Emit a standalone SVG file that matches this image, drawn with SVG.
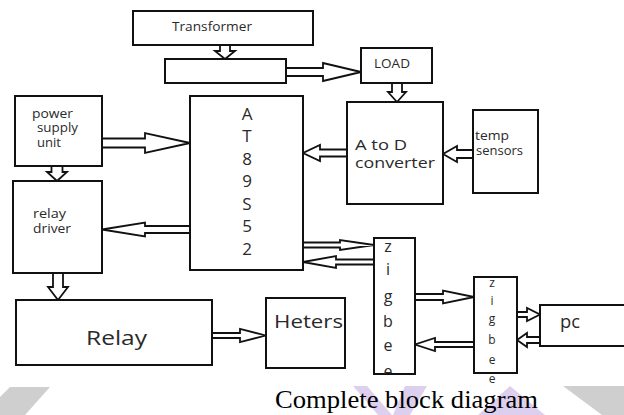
<svg xmlns="http://www.w3.org/2000/svg" width="624" height="415" viewBox="0 0 624 415">
<style>
.box{fill:#fff;stroke:#111;stroke-width:2}
.arr{fill:#fff;stroke:#111;stroke-width:1.8;stroke-linejoin:miter}
.lbl{font-family:"Open Sans","Liberation Sans",sans-serif;fill:#2a2a2a}
.ctr{text-anchor:middle}
.cap{font-family:"Liberation Serif","Times New Roman",serif;font-size:26px;fill:#000}
.wm-g{fill:#cfcfcf}
.wm-p{fill:#ddd0ef}
</style>
<defs>
<clipPath id="zclip"><rect x="374" y="238" width="41" height="136"/></clipPath>
</defs>
<rect x="0" y="0" width="624" height="415" fill="#fff"/>
<g id="watermark">
<polygon class="wm-g" points="10,387 50,387 25,415 -18,415"/>
<polygon class="wm-g" points="563,386 624,386 624,415 602,415"/>
<polygon class="wm-p" points="353,386 367,386 392,415 378,415"/>
<polygon class="wm-p" points="405,386 427,386 410,415 393,415"/>
<polygon class="wm-p" points="510,386 545,415 478,415"/>
</g>
<g id="connectors">
<polygon class="arr" points="220,45 230,45 230,51 235,51 225,59 215,51 220,51"/>
<polygon class="arr" points="286,68 323,68 323,63 361,72 323,81 323,76 286,76"/>
<polygon class="arr" points="392,83 402,83 402,92 406,92 397,102 388,92 392,92"/>
<polygon class="arr" points="347,149.5 320,149.5 320,145 303,153 320,161 320,156.5 347,156.5"/>
<polygon class="arr" points="473,150 457,150 457,146 443,154 457,162 457,158 473,158"/>
<polygon class="arr" points="102,138.5 145,138.5 145,133 190,143 145,153 145,147.5 102,147.5"/>
<polygon class="arr" points="51.5,166 62.5,166 62.5,172 67,172 57,181 47,172 51.5,172"/>
<polygon class="arr" points="190,226 145,226 145,222.5 102,229.5 145,236.5 145,233 190,233"/>
<polygon class="arr" points="53,273 63,273 63,287 68,287 58,300 48,287 53,287"/>
<polygon class="arr" points="212,333 240,333 240,329 266,335.5 240,342 240,338 212,338"/>
<polygon class="arr" points="303,242.5 340,242.5 340,240 374,245 340,250 340,247.5 303,247.5"/>
<polygon class="arr" points="374,259.5 336,259.5 336,256 303,262 336,268 336,264.5 374,264.5"/>
<polygon class="arr" points="415,294 443,294 443,290.5 474,297 443,303.5 443,300 415,300"/>
<polygon class="arr" points="474,342 435,342 435,338 415,344.5 435,351 435,347 474,347"/>
<polygon class="arr" points="517,312 527,312 527,308 540,314.5 527,321 527,317 517,317"/>
<polygon class="arr" points="540,337 527,337 527,333 517,340 527,347 527,343 540,343"/>
</g>
<g id="transformer">
<rect class="box" x="133" y="11" width="180" height="34"/>
<text class="lbl" x="172" y="31" font-size="13" textLength="80" lengthAdjust="spacingAndGlyphs">Transformer</text>
</g>
<g id="blank">
<rect class="box" x="165" y="59" width="121" height="24"/>
</g>
<g id="load">
<rect class="box" x="361" y="48" width="71" height="35"/>
<text class="lbl" x="374" y="68" font-size="12" textLength="36" lengthAdjust="spacingAndGlyphs">LOAD</text>
</g>
<g id="power">
<rect class="box" x="15" y="96" width="87" height="70"/>
<text class="lbl" x="32" y="118" font-size="12" textLength="41" lengthAdjust="spacingAndGlyphs">power</text>
<text class="lbl" x="37" y="132" font-size="12" textLength="41" lengthAdjust="spacingAndGlyphs">supply</text>
<text class="lbl" x="37" y="147" font-size="12" textLength="24" lengthAdjust="spacingAndGlyphs">unit</text>
</g>
<g id="at89s52">
<rect class="box" x="190" y="96" width="113" height="174"/>
<g class="lbl ctr" font-size="17">
<text x="247" y="120">A</text>
<text x="247" y="142">T</text>
<text x="247" y="165">8</text>
<text x="247" y="187">9</text>
<text x="247" y="210">S</text>
<text x="247" y="232">5</text>
<text x="247" y="255">2</text>
</g>
</g>
<g id="atod">
<rect class="box" x="347" y="102" width="96" height="102"/>
<text class="lbl" x="355" y="150" font-size="15" textLength="52" lengthAdjust="spacingAndGlyphs">A to D</text>
<text class="lbl" x="355" y="168" font-size="15" textLength="80" lengthAdjust="spacingAndGlyphs">converter</text>
</g>
<g id="temp">
<rect class="box" x="473" y="110" width="65" height="83"/>
<text class="lbl" x="475" y="140" font-size="12.5" textLength="34" lengthAdjust="spacingAndGlyphs">temp</text>
<text class="lbl" x="476" y="155" font-size="12.5" textLength="47" lengthAdjust="spacingAndGlyphs">sensors</text>
</g>
<g id="relaydriver">
<rect class="box" x="13" y="181" width="89" height="92"/>
<text class="lbl" x="33" y="218" font-size="12.5" textLength="33" lengthAdjust="spacingAndGlyphs">relay</text>
<text class="lbl" x="33" y="233" font-size="12.5" textLength="38" lengthAdjust="spacingAndGlyphs">driver</text>
</g>
<g id="relay">
<rect class="box" x="16" y="300" width="196" height="65"/>
<text class="lbl" x="86" y="345" font-size="20" textLength="61" lengthAdjust="spacingAndGlyphs">Relay</text>
</g>
<g id="heters">
<rect class="box" x="266" y="298" width="79" height="70"/>
<text class="lbl" x="274" y="328" font-size="19" textLength="69" lengthAdjust="spacingAndGlyphs">Heters</text>
</g>
<g id="zigbee1">
<rect class="box" x="374" y="238" width="41" height="136"/>
<g class="lbl ctr" font-size="16" clip-path="url(#zclip)">
<text x="388" y="252">z</text>
<text x="388" y="275">i</text>
<text x="388" y="302">g</text>
<text x="388" y="327">b</text>
<text x="388" y="351">e</text>
<text x="388" y="377">e</text>
</g>
</g>
<g id="zigbee2">
<rect class="box" x="474" y="277" width="43" height="96"/>
<g class="lbl ctr" font-size="12">
<text x="492" y="287">z</text>
<text x="492" y="305">i</text>
<text x="492" y="323">g</text>
<text x="492" y="344">b</text>
<text x="492" y="364">e</text>
<text x="492" y="383">e</text>
</g>
</g>
<g id="pc">
<rect class="box" x="540" y="305" width="90" height="41"/>
<text class="lbl" x="560" y="328" font-size="18" textLength="20" lengthAdjust="spacingAndGlyphs">pc</text>
</g>
<text class="cap" x="275" y="408" textLength="263" lengthAdjust="spacingAndGlyphs">Complete block diagram</text>
</svg>
